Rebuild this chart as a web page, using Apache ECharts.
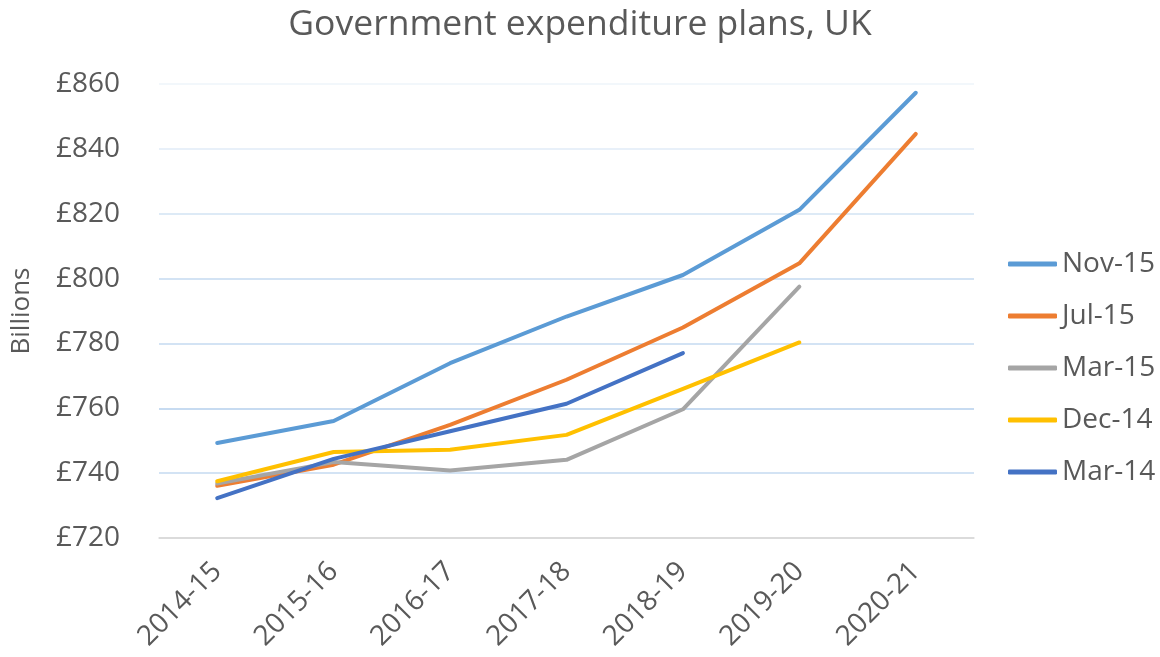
<!DOCTYPE html>
<html>
<head>
<meta charset="utf-8">
<script src="https://cdn.jsdelivr.net/npm/echarts@6/dist/echarts.min.js"></script>
<style>html,body{margin:0;padding:0;background:#fff}#c{width:1160px;height:657px}</style>
</head>
<body>
<div id="c"></div>
<script>
const categories = ['2014-15','2015-16','2016-17','2017-18','2018-19','2019-20','2020-21'];
const seriesNames = ['Nov-15','Jul-15','Mar-15','Dec-14','Mar-14'];
const nov15 = [749.3, 756.1, 773.9, 788.3, 801.1, 821.2, 857.3];
const jul15 = [736.1, 742.6, 754.9, 768.8, 784.9, 804.7, 844.6];
const mar15 = [736.8, 743.4, 740.8, 744.1, 759.7, 797.5, null];
const dec14 = [737.5, 746.5, 747.2, 751.8, 766.0, 780.3, null];
const mar14 = [732.3, 744.4, 752.9, 761.4, 777.0, null, null];
const colors = ['#5B9BD5','#ED7D31','#A5A5A5','#FFC000','#4472C4'];
const FONT = 'Open Sans';
const TXT = '#595959';

const allData = [nov15, jul15, mar15, dec14, mar14];
const chart = echarts.init(document.getElementById('c'), null, {renderer:'canvas'});
chart.setOption({
  animation: false,
  backgroundColor: '#fff',
  title: {
    text: 'Government expenditure plans, UK',
    left: 'center', top: 2,
    textStyle: {fontFamily: FONT, fontSize: 35.5, fontWeight: 'normal', color: TXT}
  },
  legend: {
    orient: 'vertical', left: 1003, top: 244,
    itemWidth: 49, itemHeight: 5, itemGap: 22, icon: 'roundRect',
    textStyle: {fontFamily: FONT, fontSize: 28, color: TXT, lineHeight: 30},
    data: seriesNames
  },
  grid: {left: 159, right: 186, top: 84, bottom: 119, containLabel: false, outerBoundsMode: 'none'},
  xAxis: {
    type: 'category', data: categories, boundaryGap: true,
    axisLine: {lineStyle: {color: '#d9d9d9', width: 1.5}},
    axisTick: {show: false},
    axisLabel: {rotate: 45, margin: 29, fontFamily: FONT, fontSize: 28, color: TXT}
  },
  yAxis: {
    type: 'value', min: 720, max: 860, interval: 20,
    name: 'Billions', nameLocation: 'middle', nameRotate: 90, nameGap: 124,
    nameTextStyle: {fontFamily: FONT, fontSize: 26, color: TXT},
    axisLine: {show: false}, axisTick: {show: false},
    axisLabel: {margin: 39, fontFamily: FONT, fontSize: 28, color: TXT, formatter: v => '£' + v},
    splitLine: {lineStyle: {width: 1.5, color: ['#d9d9d9','#c5daf0','#b4cfec','#c5daf0','#c5daf0','#d2e3f3','#e0ebf7','#eef4fa']}}
  },
  series: seriesNames.map((n, i) => ({
    name: n, type: 'line', data: allData[i], symbol: 'none', showSymbol: false,
    connectNulls: false, color: colors[i],
    lineStyle: {width: 4, color: colors[i], cap: 'round', join: 'round'},
    itemStyle: {color: colors[i]},
    z: 2 + i
  }))
});
</script>
</body>
</html>
